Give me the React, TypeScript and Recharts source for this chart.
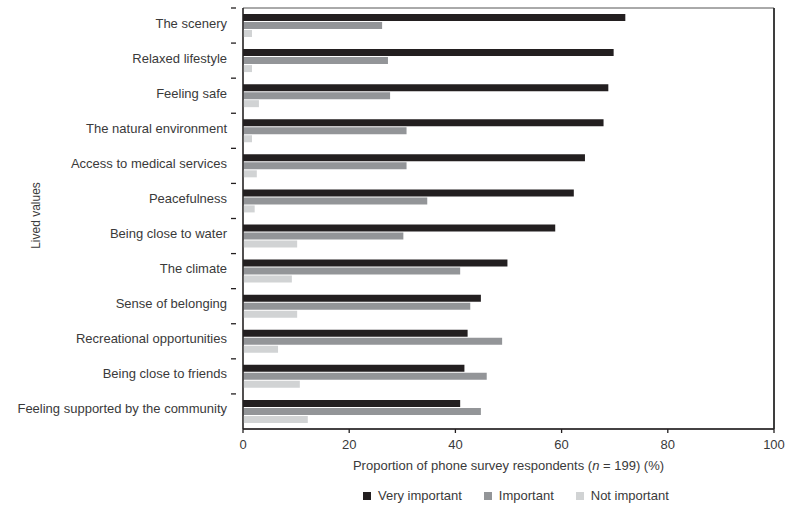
import React from 'react'
import {
  BarChart, Bar, XAxis, YAxis, Legend, Label, ReferenceArea, ReferenceLine
} from 'recharts'

const categories = [
  'The scenery',
  'Relaxed lifestyle',
  'Feeling safe',
  'The natural environment',
  'Access to medical services',
  'Peacefulness',
  'Being close to water',
  'The climate',
  'Sense of belonging',
  'Recreational opportunities',
  'Being close to friends',
  'Feeling supported by the community',
]

const veryImportant = [72.0, 69.8, 68.8, 67.9, 64.4, 62.3, 58.8, 49.8, 44.8, 42.3, 41.7, 40.9]
const important = [26.2, 27.3, 27.7, 30.8, 30.8, 34.7, 30.2, 40.9, 42.8, 48.8, 45.9, 44.8]
const notImportant = [1.7, 1.7, 3.0, 1.7, 2.6, 2.2, 10.2, 9.2, 10.2, 6.6, 10.7, 12.2]

const xTicks = [0, 20, 40, 60, 80, 100]

const data = categories.map((name, i) => ({
  name,
  very: veryImportant[i],
  important: important[i],
  not: notImportant[i],
}))

const FONT = '"Liberation Sans", Arial, sans-serif'
const INK = '#231f20'
const TEXT = '#3a3a3a'

const legendItems = [
  { label: 'Very important', color: '#231f20' },
  { label: 'Important', color: '#939598' },
  { label: 'Not important', color: '#d1d3d4' },
]

const LegendContent = () => (
  <div style={{ display: 'flex', alignItems: 'center', fontFamily: FONT, fontSize: 13, color: TEXT }}>
    {legendItems.map((it) => (
      <div key={it.label} style={{ display: 'flex', alignItems: 'center', marginRight: 22 }}>
        <span style={{ width: 8, height: 8, background: it.color, display: 'inline-block', marginRight: 7 }} />
        <span>{it.label}</span>
      </div>
    ))}
  </div>
)

// category label plus a small tick mark at the top edge of each band
const BandTick = (props: any) => {
  const { x, y, payload } = props
  const half = payload.offset || 0
  return (
    <g>
      <text
        x={x - 8}
        y={y}
        dy={2}
        textAnchor="end"
        fontSize={13}
        fontFamily={FONT}
        fill={TEXT}
      >
        {payload.value}
      </text>
      <line x1={x - 4} x2={x + 1} y1={y - half} y2={y - half} stroke={INK} strokeWidth={1.3} />
    </g>
  )
}

export default function App() {
  return (
    <div style={{ position: 'absolute', left: 0, top: 0, background: '#fff' }}>
      <BarChart
        width={789}
        height={505}
        data={data}
        layout="vertical"
        margin={{ top: 8, right: 15, bottom: 0, left: 0 }}
        barSize={7}
        barGap={1}
      >
        <XAxis
          type="number"
          domain={[0, 100]}
          ticks={xTicks}
          tick={{ fontSize: 13, fill: TEXT, fontFamily: FONT }}
          tickSize={4}
          tickMargin={7}
          axisLine={{ stroke: INK, strokeWidth: 1.3 }}
          tickLine={{ stroke: INK, strokeWidth: 1.3 }}
          height={46}
        >
          <Label
            content={({ viewBox }: any) => (
              <text
                x={viewBox.x + viewBox.width / 2}
                y={viewBox.y + 41}
                textAnchor="middle"
                fontSize={13}
                fontFamily={FONT}
                fill={TEXT}
              >
                Proportion of phone survey respondents (<tspan fontStyle="italic">n</tspan> = 199) (%)
              </text>
            )}
          />
        </XAxis>
        <YAxis
          type="category"
          dataKey="name"
          width={243}
          tick={<BandTick />}
          tickLine={false}
          axisLine={{ stroke: INK, strokeWidth: 1.3 }}
          interval={0}
        >
          <Label
            content={({ viewBox }: any) => (
              <text
                x={viewBox.x + 40}
                y={viewBox.y + viewBox.height / 2 - 3}
                textAnchor="middle"
                fontSize={12}
                fontFamily={FONT}
                fill={TEXT}
                transform={`rotate(-90 ${viewBox.x + 40} ${viewBox.y + viewBox.height / 2 - 3})`}
              >
                Lived values
              </text>
            )}
          />
        </YAxis>
        <ReferenceArea x1={0} x2={100} fill="none" stroke="#555" strokeWidth={1} ifOverflow="visible" />
        <ReferenceLine x={100} stroke="#333" strokeWidth={1.8} />
        <Legend
          verticalAlign="bottom"
          height={30}
          content={<LegendContent />}
          wrapperStyle={{ left: 363, width: 380, top: 488 }}
        />
        <Bar dataKey="very" name="Very important" fill="#231f20" isAnimationActive={false} />
        <Bar dataKey="important" name="Important" fill="#939598" isAnimationActive={false} />
        <Bar dataKey="not" name="Not important" fill="#d1d3d4" isAnimationActive={false} />
      </BarChart>
    </div>
  )
}
